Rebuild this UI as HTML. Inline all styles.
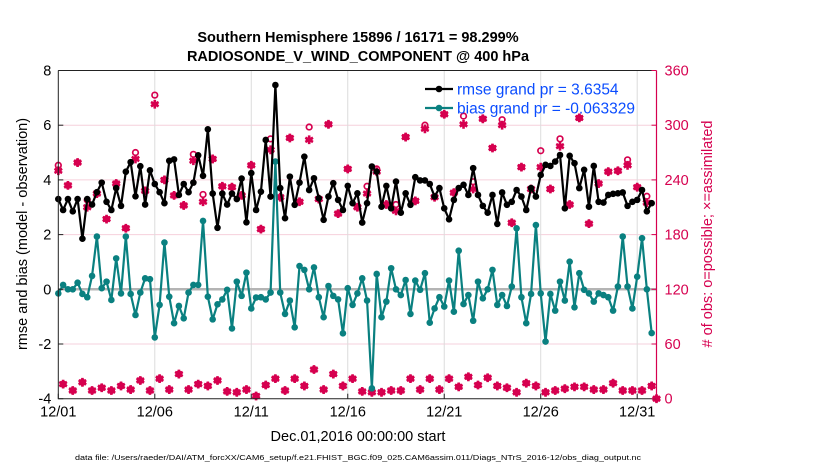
<!DOCTYPE html>
<html><head><meta charset="utf-8"><style>
body{margin:0;background:#fff;}
svg{display:block;font-family:"Liberation Sans",sans-serif;}
</style></head><body>
<svg id="chart" width="830" height="470" viewBox="0 0 830 470" xmlns="http://www.w3.org/2000/svg">
<rect x="0" y="0" width="830" height="470" fill="#fff"/>
<g id="grid"></g>
<g id="series"></g>
<g id="axes"></g>
<text x="358" y="42" text-anchor="middle" font-size="14.5" font-weight="bold">Southern Hemisphere 15896 / 16171 = 98.299%</text>
<text x="358" y="61" text-anchor="middle" font-size="14.5" font-weight="bold">RADIOSONDE_V_WIND_COMPONENT @ 400 hPa</text>
<text x="358" y="441" text-anchor="middle" font-size="14.5">Dec.01,2016 00:00:00 start</text>
<text x="358" y="460" text-anchor="middle" font-size="7" textLength="566" lengthAdjust="spacingAndGlyphs">data file: /Users/raeder/DAI/ATM_forcXX/CAM6_setup/f.e21.FHIST_BGC.f09_025.CAM6assim.011/Diags_NTrS_2016-12/obs_diag_output.nc</text>
<text transform="translate(27,234) rotate(-90)" text-anchor="middle" font-size="14.5">rmse and bias (model - observation)</text>
<text transform="translate(712,234) rotate(-90)" text-anchor="middle" font-size="14.5" fill="#d6004f"># of obs: o=possible; ×=assimilated</text>
<g id="legend"></g>
</svg>
<script>
const rmse=[3.3,2.9,3.3,2.85,3.3,1.85,3.3,3.1,3.55,3.9,3.2,2.9,3.7,3.05,4.3,4.65,3.4,4.5,3.1,4.35,3.85,3.55,3.15,4.7,4.75,3.45,3.85,3.55,3.9,4.9,4.15,5.85,3.5,2.25,3.5,3.1,3.5,3.3,4.05,2.45,4.25,2.9,
3.57,5.46,3.39,7.47,3.7,2.6,4.12,3.09,3.9,4.85,3.63,4.06,3.33,2.54,3.39,3.88,3.27,2.9,3.78,3.15,3.51,2.44,3.15,4.49,4.3,3.02,3.78,2.96,3.94,2.8,3.51,3.09,4.1,3.98,3.98,3.85,3.39,3.7,2.96,2.56,
3.27,3.7,3.82,3.45,4.43,3.45,3.05,2.8,3.45,2.39,3.54,3.09,3.2,3.63,3.39,2.9,3.7,3.39,4.18,4.55,4.51,4.67,4.91,2.96,4.88,4.61,3.7,4.37,3.02,4.51,3.2,3.17,3.45,3.49,3.51,3.54,3.05,3.2,3.27,3.63,2.85,3.15];
const bias=[-0.15,0.16,0,0,0.24,-0.17,-0.29,0.49,1.93,0.04,0.28,-0.39,1.13,-0.15,1.93,-0.17,-0.94,-0.12,0.4,0.37,-1.76,-0.57,1.71,-0.27,-1.24,-0.61,-1.06,-0.12,0.16,0.16,2.5,-0.27,-1.1,-0.55,-0.37,-0.02,-1.43,0.28,-0.24,0.61,-0.7,-0.3,
-0.29,-0.37,-0.12,4.67,-0.12,-0.9,-0.41,-1.39,0.85,0.71,0,0.8,-0.29,-1.02,0.12,-0.24,-0.37,-1.61,0.04,-0.57,-0.15,0.4,-0.41,-3.62,0.56,-1.02,-0.45,0.77,0,-0.21,0.34,-0.9,0.32,-0.02,0.59,-1.22,-0.7,-0.29,-0.63,0.32,
-0.82,1.41,-0.54,-0.21,-1.15,0.28,-0.33,0,0.71,-0.57,-0.21,-0.61,0.1,2.23,-0.29,-1.24,-0.17,2.35,-0.15,-1.91,-0.17,-0.78,0.28,-0.41,1.01,-0.66,0.59,-0.02,-0.15,-0.45,-0.15,-0.21,-0.29,-0.78,0.1,1.93,0.1,-0.7,0.46,1.87,0,-1.6];
const obsAssim=[250,16,234,9,259,18,210,9,225,12,197,9,236,14,187,10,263,20,228,9,323,22,240,10,223,27,212,10,261,16,216,14,263,20,233,8,232,7,223,10,256,3,
186,15,273,22,221,9,286,22,216,14,284,32,219,10,301,27,203,14,252,22,210,8,225,7,249,7,213,9,206,9,287,22,217,10,296,22,221,10,312,22,
226,13,301,24,230,15,307,23,275,14,300,12,193,7,254,17,230,14,254,7,230,9,277,11,213,13,308,13,192,10,236,10,249,17,250,9,256,9,232,9,215,14,0];
const obsPossible=[256,16,234,9,259,18,218,9,225,12,197,9,236,14,187,10,270,20,228,9,333,22,240,10,223,27,212,10,268,16,224,14,263,20,233,8,232,7,223,10,256,3,
186,15,285,22,221,9,286,22,216,14,298,32,219,10,301,27,203,14,252,22,210,8,233,7,252,7,213,9,213,9,287,22,217,10,300,22,221,10,312,22,
226,13,310,24,238,15,307,23,275,14,306,12,193,7,254,17,230,14,272,7,230,9,285,11,213,13,308,13,192,10,236,10,249,17,250,9,262,9,232,9,222,14,0];
const stepDays=0.25;
const leftTicks=[-4,-2,0,2,4,6,8];
const rightTicks=[0,60,120,180,240,300,360];
const xTickDays=[0,5,10,15,20,25,30];
const xTickLabels=['12/01','12/06','12/11','12/16','12/21','12/26','12/31'];
const legendLabels=['rmse grand pr = 3.6354','bias grand pr = -0.063329'];

const NS='http://www.w3.org/2000/svg';
const L=58.3,R=656.5,T=70.5,B=398.7;
const X0=0,X1=31;
const xs=d=>L+(d-X0)/(X1-X0)*(R-L);
const yl=v=>B-(v+4)/12*(B-T);
const yr=v=>B-v/360*(B-T);
const MAG='#d6004f',TEAL='#0a8080';
function mk(tag,attrs,parent){const e=document.createElementNS(NS,tag);for(const k in attrs)e.setAttribute(k,attrs[k]);parent.appendChild(e);return e;}
const grid=document.getElementById('grid'),ser=document.getElementById('series'),ax=document.getElementById('axes'),leg=document.getElementById('legend');
rightTicks.slice(1,-1).forEach(v=>{const e=mk('line',{x1:L,x2:R,y1:yr(v),y2:yr(v),stroke:'#f6d0dc','stroke-width':1},grid);

});
xTickDays.slice(1).forEach(d=>{const e=mk('line',{x1:xs(d),x2:xs(d),y1:T,y2:B,stroke:'#dcdcdc','stroke-width':1},grid);

});
const z=mk('line',{x1:L,x2:R,y1:yl(0),y2:yl(0),stroke:'#b4b4b4','stroke-width':2.5},grid);


function star(x,y,g){const r=4.4;let d='';for(let a=0;a<3;a++){const t=a*Math.PI/3+Math.PI/2;d+=`M${x-r*Math.cos(t)},${y-r*Math.sin(t)}L${x+r*Math.cos(t)},${y+r*Math.sin(t)}`;}
d+=`M${x-3.4},${y}L${x+3.4},${y}`;return mk('path',{d:d,stroke:MAG,'stroke-width':2.6,fill:'none'},g);}
const gA=mk('g',{},ser);
const gP=mk('g',{},ser);
obsPossible.forEach((v,i)=>{const c=mk('circle',{cx:xs(i*stepDays),cy:yr(v),r:2.8,fill:'none',stroke:MAG,'stroke-width':1.7},gP);

});
obsAssim.forEach((v,i)=>{const p=star(xs(i*stepDays),yr(v),gA);

});
function series(vals,color,name){const g=mk('g',{},ser);


const pts=vals.map((v,i)=>xs(i*stepDays).toFixed(2)+','+yl(v).toFixed(2)).join(' ');
mk('polyline',{points:pts,fill:'none',stroke:color,'stroke-width':2.2,'stroke-linejoin':'round'},g);
vals.forEach((v,i)=>{const c=mk('circle',{cx:xs(i*stepDays),cy:yl(v),r:3.3,fill:color},g);

});}
series(bias,TEAL,'bias-series');
series(rmse,'#000','rmse-series');
mk('path',{d:`M${L},${T}V${B}H${R}`,stroke:'#222','stroke-width':1,fill:'none'},ax);
mk('line',{x1:L,x2:R,y1:T,y2:T,stroke:'#222','stroke-width':1},ax);
mk('line',{x1:R,x2:R,y1:T,y2:B,stroke:MAG,'stroke-width':1.2},ax);
leftTicks.forEach(v=>{mk('line',{x1:L,x2:L+5,y1:yl(v),y2:yl(v),stroke:'#222'},ax);
const t=mk('text',{x:L-7,y:yl(v)+5,'text-anchor':'end','font-size':14.5},ax);t.textContent=v;

});
rightTicks.forEach(v=>{mk('line',{x1:R,x2:R-5,y1:yr(v),y2:yr(v),stroke:MAG},ax);
const t=mk('text',{x:R+8,y:yr(v)+5,'font-size':14.5,fill:MAG},ax);t.textContent=v;

});
xTickDays.forEach((d,i)=>{mk('line',{x1:xs(d),x2:xs(d),y1:B,y2:B-5,stroke:'#222'},ax);
const t=mk('text',{x:xs(d),y:B+18,'text-anchor':'middle','font-size':14.5},ax);t.textContent=xTickLabels[i];

});
[['#000',0],[TEAL,1]].forEach(([c,i])=>{const y=89+i*19;
const g=mk('g',{},leg);


mk('line',{x1:425,x2:453,y1:y,y2:y,stroke:c,'stroke-width':2.2},g);
mk('circle',{cx:439,cy:y,r:3.3,fill:c},g);
const t=mk('text',{x:457,y:y+5.5,'font-size':15.5,fill:'#0a4cff'},g);t.textContent=legendLabels[i];});
</script>
</body></html>
